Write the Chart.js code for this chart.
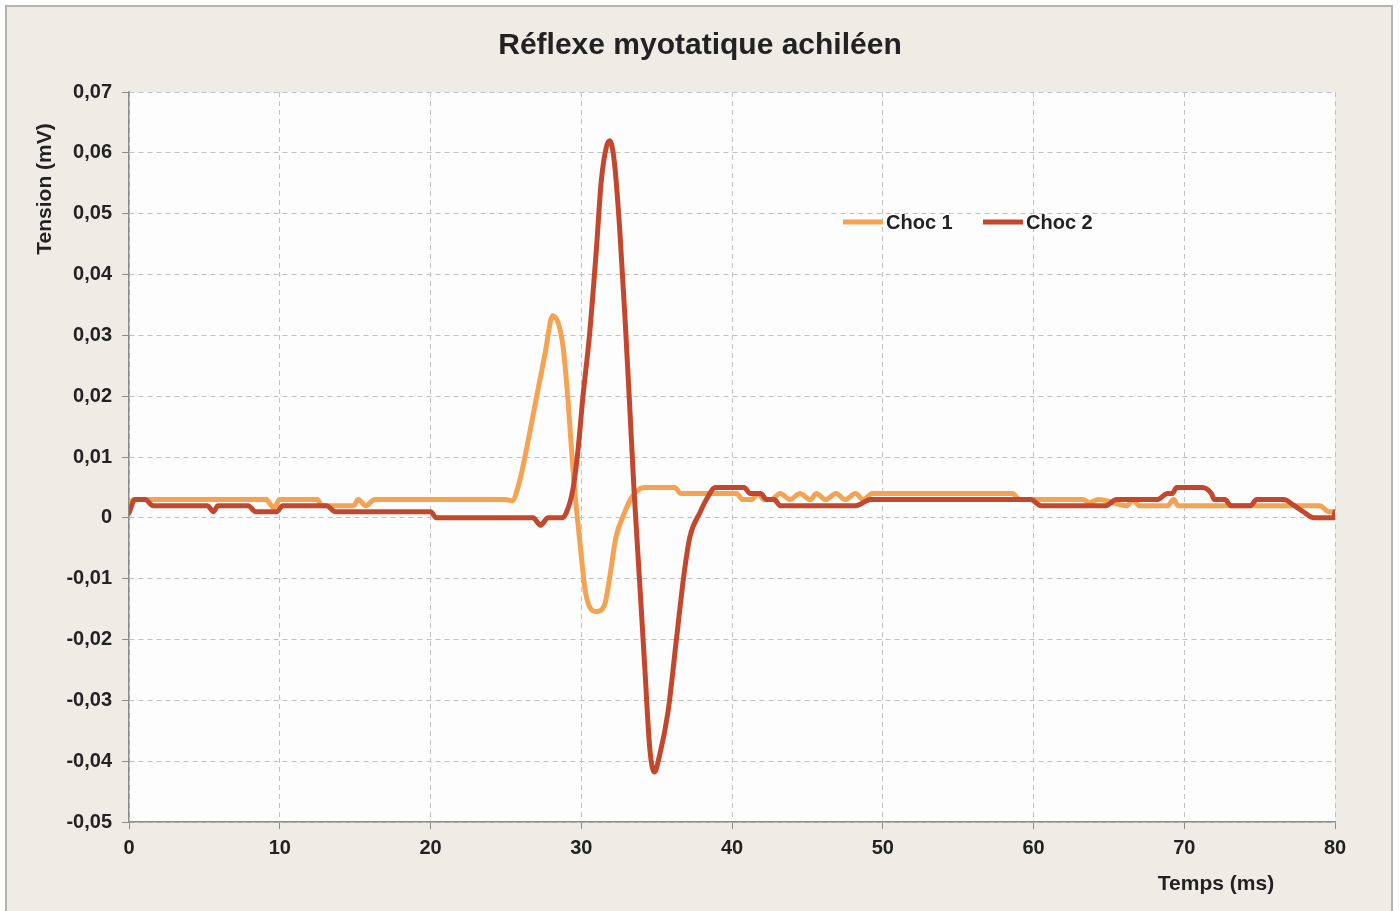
<!DOCTYPE html>
<html>
<head>
<meta charset="utf-8">
<script src="https://cdn.jsdelivr.net/npm/chart.js@4/dist/chart.umd.min.js"></script>
<style>
  body { margin: 0; background: #ffffff; }
  #frame {
    position: absolute; left: 5px; top: 5px; width: 1384px; height: 910px;
    background: #efece6; border: 2px solid #b4b4b4; border-bottom: none;
  }
  #wrap { position: absolute; left: 0; top: 0; width: 1400px; height: 911px; }
</style>
</head>
<body>
<div id="frame"></div>
<div id="wrap"><canvas id="reflexChart" width="1400" height="911"></canvas></div>
<script>
// Time axis (ms) and tension (mV)
const timesChoc1 = [0, 0.3, 9.1, 9.6, 10.0, 12.5, 12.8, 14.9, 15.2, 15.7, 16.3,
  25.0, 25.4, 25.9, 26.4, 27.0, 27.6, 28.1, 28.5, 28.8, 29.1, 29.45, 29.7, 29.95, 30.3,
  31.0, 31.55, 31.9, 32.3, 32.8, 33.3, 33.9, 34.2, 36.2, 36.6,
  40.3, 40.7, 41.3, 41.75, 42.1, 42.6, 43.2, 43.85, 44.5, 45.2, 45.6, 46.2, 46.9, 47.5,
  48.2, 48.7, 49.3, 58.6, 59.1, 63.3, 63.7, 64.3, 66.2, 66.6, 67.0, 68.9, 69.3, 69.6,
  79.0, 79.6, 80];
const choc1 = [0.002, 0.003, 0.003, 0.0017, 0.003, 0.003, 0.002, 0.002, 0.003, 0.002, 0.003,
  0.003, 0.0028, 0.0059, 0.0117, 0.0194, 0.027, 0.0332, 0.0318, 0.028, 0.020, 0.008, 0.001, -0.005, -0.0125,
  -0.0154, -0.0143, -0.0096, -0.0032, 0.0004, 0.0032, 0.0048, 0.005, 0.005, 0.004,
  0.004, 0.003, 0.003, 0.004, 0.003, 0.003, 0.004, 0.003, 0.004, 0.003, 0.004, 0.003, 0.004, 0.003,
  0.004, 0.003, 0.004, 0.004, 0.003, 0.003, 0.0025, 0.003, 0.002, 0.003, 0.002, 0.002, 0.003, 0.002,
  0.002, 0.001, 0.001];

const timesChoc2 = [0, 0.4, 1.06, 1.6, 5.2, 5.6, 5.9, 7.9, 8.4, 9.8, 10.2, 13.1, 13.7, 20.0, 20.4,
  26.8, 27.3, 27.8, 28.7, 29.0, 29.44, 29.78, 30.1, 30.56, 31.0, 31.33, 31.67, 31.9, 32.2, 32.55,
  32.9, 33.2, 33.5, 33.85, 34.2, 34.55, 34.85, 35.2, 35.75, 36.3, 36.8, 37.2, 37.9, 38.3, 38.9,
  40.8, 41.2, 41.9, 42.3, 42.8, 43.2, 48.2, 49.2, 59.8, 60.5, 64.8, 65.5, 68.2, 68.9, 69.2, 69.5,
  71.2, 71.8, 72.0, 72.7, 73.1, 74.4, 74.8, 76.6, 77.3, 77.9, 78.6, 79.9, 80];
const choc2 = [0.0008, 0.003, 0.003, 0.002, 0.002, 0.001, 0.002, 0.002, 0.001, 0.001, 0.002, 0.002, 0.001, 0.001, 0,
  0, -0.0012, 0, 0, 0.0008, 0.0046, 0.011, 0.0196, 0.0304, 0.044, 0.0554, 0.061, 0.062, 0.0584, 0.0475,
  0.033, 0.019, 0.0046, -0.0096, -0.024, -0.038, -0.0418, -0.039, -0.032, -0.0203, -0.0096, -0.0032, 0.001, 0.003, 0.005,
  0.005, 0.004, 0.004, 0.003, 0.003, 0.002, 0.002, 0.003, 0.003, 0.002, 0.002, 0.003, 0.003, 0.004, 0.004, 0.005,
  0.005, 0.004, 0.003, 0.003, 0.002, 0.002, 0.003, 0.003, 0.002, 0.001, 0, 0, 0.001];

const seriesLabels = ['Choc 1', 'Choc 2'];
const seriesColors = ['#f5a253', '#c2472c'];

const textColor = '#222222';
const fontFamily = '"Liberation Sans", Arial, sans-serif';

function toPoints(times, values) {
  return times.map((t, i) => ({ x: t, y: values[i] }));
}

// paint the plot background, the title, axis titles and the legend
const decorations = {
  id: 'decorations',
  beforeDraw(chart) {
    const { ctx, chartArea: a } = chart;
    ctx.save();
    ctx.fillStyle = '#fdfdfd';
    ctx.fillRect(a.left, a.top, a.right - a.left, a.bottom - a.top);
    ctx.restore();
  },
  afterDraw(chart) {
    const { ctx } = chart;
    ctx.save();
    ctx.fillStyle = textColor;
    ctx.textBaseline = 'middle';

    ctx.font = 'bold 30px ' + fontFamily;
    ctx.textAlign = 'center';
    ctx.fillText('Réflexe myotatique achiléen', 700, 46);

    ctx.font = 'bold 21px ' + fontFamily;
    ctx.fillText('Temps (ms)', 1216, 884);
    ctx.save();
    ctx.translate(45, 189);
    ctx.rotate(-Math.PI / 2);
    ctx.fillText('Tension (mV)', 0, 0);
    ctx.restore();

    // legend inside the plot area
    ctx.font = 'bold 20px ' + fontFamily;
    ctx.textAlign = 'left';
    const legendX = [843, 983];
    seriesLabels.forEach((label, i) => {
      ctx.strokeStyle = seriesColors[i];
      ctx.lineWidth = 5;
      ctx.beginPath();
      ctx.moveTo(legendX[i], 222);
      ctx.lineTo(legendX[i] + 40, 222);
      ctx.stroke();
      ctx.fillText(label, legendX[i] + 43, 223);
    });
    ctx.restore();
  }
};

const ctx = document.getElementById('reflexChart').getContext('2d');
new Chart(ctx, {
  type: 'line',
  data: {
    datasets: [
      { label: seriesLabels[0], data: toPoints(timesChoc1, choc1) },
      { label: seriesLabels[1], data: toPoints(timesChoc2, choc2) }
    ].map((d, i) => Object.assign(d, {
      borderColor: seriesColors[i],
      backgroundColor: seriesColors[i],
      borderWidth: 5,
      pointRadius: 0,
      fill: false,
      cubicInterpolationMode: 'monotone',
      borderCapStyle: 'round',
      borderJoinStyle: 'round'
    })).reverse()
  },
  options: {
    responsive: false,
    animation: false,
    layout: { padding: { left: 0, right: 65, top: 92, bottom: 0 } },
    plugins: {
      legend: { display: false },
      title: { display: false },
      tooltip: { enabled: false }
    },
    scales: {
      x: {
        type: 'linear',
        min: 0,
        max: 80,
        afterFit: s => { s.height = 89; },
        ticks: {
          stepSize: 10,
          padding: 7,
          color: textColor,
          font: { family: fontFamily, size: 20, weight: 'bold' }
        },
        grid: {
          color: '#c2c2c2',
          tickColor: '#8c8c8c',
          tickLength: 7,
          tickBorderDash: []
        },
        border: { color: '#8c8c8c', width: 1.5, dash: [5, 4] }
      },
      y: {
        min: -0.05,
        max: 0.07,
        afterFit: s => { s.width = 129; },
        ticks: {
          stepSize: 0.01,
          padding: 10,
          color: textColor,
          font: { family: fontFamily, size: 20, weight: 'bold' },
          callback: v => {
            const r = Math.round(v * 100) / 100;
            return r === 0 ? '0' : r.toFixed(2).replace('.', ',');
          }
        },
        grid: {
          color: '#c2c2c2',
          tickColor: '#8c8c8c',
          tickLength: 7,
          tickBorderDash: []
        },
        border: { color: '#8c8c8c', width: 1.5, dash: [5, 4] }
      }
    }
  },
  plugins: [decorations]
});
</script>
</body>
</html>
